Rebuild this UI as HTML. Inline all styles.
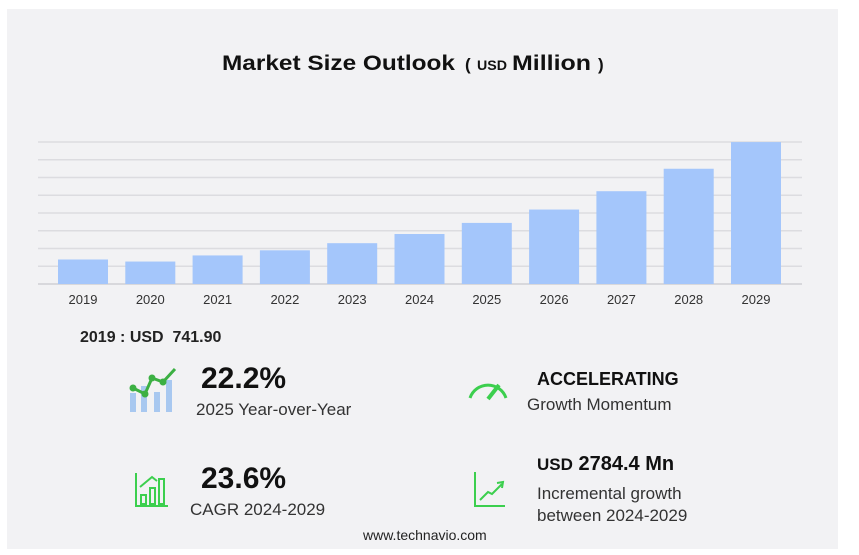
<!DOCTYPE html>
<html><head><meta charset="utf-8"><style>
body{margin:0;background:#fff;width:859px;height:555px;overflow:hidden;font-family:"Liberation Sans",sans-serif;}
#card{position:absolute;left:7px;top:9px;width:831px;height:540px;background:#f2f2f4;}
.t{position:absolute;white-space:nowrap;color:#111;}
</style></head><body>
<div id="card"></div>
<svg id="chart" width="859" height="555" style="position:absolute;left:0;top:0">
<text y="70" font-weight="bold" fill="#111"><tspan x="222" font-size="21" textLength="233" lengthAdjust="spacingAndGlyphs">Market Size Outlook</tspan><tspan x="465" font-size="17">(</tspan><tspan x="477" font-size="14" textLength="30" lengthAdjust="spacingAndGlyphs">USD</tspan><tspan x="512" font-size="21" textLength="79" lengthAdjust="spacingAndGlyphs">Million</tspan><tspan x="598" font-size="17">)</tspan></text>
<g id="grid"></g><g id="bars"></g><g id="xlabels"></g>
</svg>
<div class="t" style="left:80px;top:329px;font-size:16px;font-weight:bold;color:#222">2019 : USD&nbsp; 741.90</div>

<svg width="859" height="555" style="position:absolute;left:0;top:0">
<g>
<rect x="130" y="393" width="6" height="19" fill="#a8c8f0"/><rect x="141" y="386" width="6" height="26" fill="#a8c8f0"/><rect x="154" y="392" width="6" height="20" fill="#a8c8f0"/><rect x="166" y="380" width="6" height="32" fill="#a8c8f0"/>
<polyline points="133,388 145,394 152,378 163,382 175,369" fill="none" stroke="#3cb043" stroke-width="3"/>
<circle cx="133" cy="388" r="3.5" fill="#3cb043"/><circle cx="145" cy="394" r="3.5" fill="#3cb043"/><circle cx="152" cy="378" r="3.5" fill="#3cb043"/><circle cx="163" cy="382" r="3.5" fill="#3cb043"/>
</g>
<g fill="none" stroke="#3ccf4e" stroke-width="3">
<path d="M470,398 A19,19 0 0 1 506,398"/><line x1="488" y1="399" x2="499" y2="385" stroke-width="4"/>
</g>
<g fill="none" stroke="#3ccf4e" stroke-width="2">
<polyline points="136,473 136,506 168,506"/><rect x="141" y="495" width="5" height="9"/><rect x="150" y="488" width="5" height="16"/><rect x="159" y="479" width="5" height="25"/><polyline points="140,487 152,477 157,481"/>
</g>
<g fill="none" stroke="#3ccf4e" stroke-width="2">
<polyline points="475,472 475,506 505,506"/><polyline points="480,500 488,492 492,494 502,484"/><polyline points="497,483 503,482 502,488"/>
</g>
</svg>

<div class="t" style="left:201px;top:362px;font-size:30px;font-weight:bold">22.2%</div>
<div class="t" style="left:196px;top:400px;font-size:17px;color:#333">2025 Year-over-Year</div>
<div class="t" style="left:537px;top:369px;font-size:18px;font-weight:bold">ACCELERATING</div>
<div class="t" style="left:527px;top:395px;font-size:17px;color:#333">Growth Momentum</div>
<div class="t" style="left:201px;top:462px;font-size:30px;font-weight:bold">23.6%</div>
<div class="t" style="left:190px;top:500px;font-size:17px;color:#333">CAGR 2024-2029</div>
<div class="t" style="left:537px;top:453px;font-size:20px;font-weight:bold"><span style="font-size:17px">USD</span> 2784.4 Mn</div>
<div class="t" style="left:537px;top:484px;font-size:17px;color:#333">Incremental growth</div>
<div class="t" style="left:537px;top:506px;font-size:17px;color:#333">between 2024-2029</div>
<div class="t" style="left:363px;top:527px;font-size:14px;color:#222">www.technavio.com</div>

<script>
const categories=["2019","2020","2021","2022","2023","2024","2025","2026","2027","2028","2029"];
const values=[742,680,865,1020,1236,1514,1850,2255,2810,3490,4298];
const gridCount=8;
const yMax=4300;
const NS="http://www.w3.org/2000/svg";
const x0=58,pitch=67.3,bw=50,base=284,plotTop=142;
const yScale=v=>base-(v/yMax)*(base-plotTop);
const xs=i=>x0+i*pitch;
const g=document.getElementById('grid'),b=document.getElementById('bars'),xl=document.getElementById('xlabels');
for(let k=0;k<=gridCount;k++){
  const l=document.createElementNS(NS,'line');
  const yy=yScale(yMax*k/gridCount);
  l.setAttribute('x1',38);l.setAttribute('x2',802);l.setAttribute('y1',yy);l.setAttribute('y2',yy);
  l.setAttribute('stroke',k==0?'#cfcfd4':'#dcdce0');l.setAttribute('stroke-width',1.5);
  
  
  g.appendChild(l);
}
categories.forEach((c,i)=>{
  const r=document.createElementNS(NS,'rect');
  r.setAttribute('x',xs(i));r.setAttribute('width',bw);r.setAttribute('y',yScale(values[i]));r.setAttribute('height',base-yScale(values[i]));
  r.setAttribute('fill','#a4c6fb');
  
  
  b.appendChild(r);
  const t=document.createElementNS(NS,'text');
  t.setAttribute('x',xs(i)+bw/2);t.setAttribute('y',304);t.setAttribute('text-anchor','middle');
  t.setAttribute('font-size','13');t.setAttribute('fill','#333');t.textContent=c;
  
  
  xl.appendChild(t);
});
</script>
</body></html>
